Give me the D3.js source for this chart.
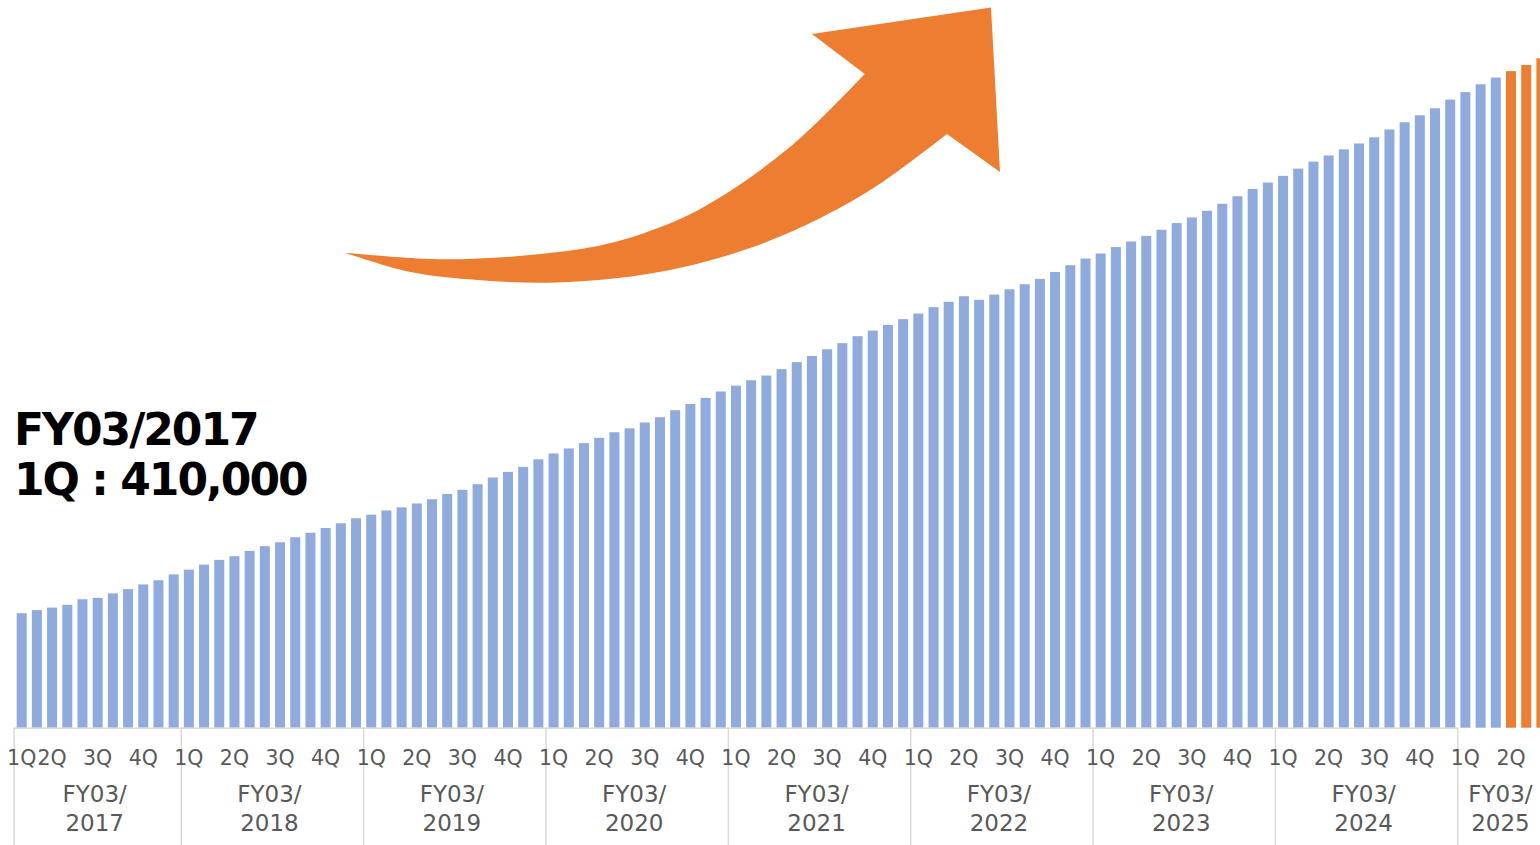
<!DOCTYPE html>
<html>
<head>
<meta charset="utf-8">
<script src="https://cdn.jsdelivr.net/npm/d3@7"></script>
<style>
  html, body { margin: 0; padding: 0; background: #ffffff; overflow: hidden; }
  svg { display: block; }
</style>
</head>
<body>
<div id="chart"></div>
<script>
// ---------------- DATA ----------------
const fiscalYearPrefix = "FY03/";
const fiscalYears = ["2017", "2018", "2019", "2020", "2021", "2022", "2023", "2024", "2025"];
// number of monthly bars shown in each fiscal year
const barsPerYear = [11, 12, 12, 12, 12, 12, 12, 12, 6];
// fiscal month (0 = April) of the first bar of each fiscal year
const firstFiscalMonth = [1, 0, 0, 0, 0, 0, 0, 0, 0];
const quarterLabels = ["1Q", "2Q", "3Q", "4Q"];

// monthly values (blue series), May FY03/2017 ... June FY03/2025
const actualValues = [
  410000, 421000, 430000, 440000, 460000, 465000, 481000, 496000, 513000, 528000, 549000,
  566000, 584000, 601000, 614000, 633000, 650000, 664000, 682000, 698000, 715000, 732000, 750000,
  763000, 778000, 789000, 803000, 818000, 837000, 852000, 872000, 896000, 916000, 934000, 961000,
  982000, 1000000, 1019000, 1038000, 1058000, 1072000, 1093000, 1112000, 1137000, 1159000, 1181000, 1204000,
  1225000, 1244000, 1261000, 1284000, 1309000, 1331000, 1355000, 1377000, 1402000, 1422000, 1442000, 1463000,
  1483000, 1506000, 1525000, 1545000, 1532000, 1551000, 1570000, 1588000, 1607000, 1632000, 1656000, 1680000,
  1698000, 1721000, 1741000, 1761000, 1783000, 1807000, 1827000, 1851000, 1876000, 1903000, 1929000, 1952000,
  1976000, 2002000, 2027000, 2049000, 2071000, 2092000, 2114000, 2142000, 2168000, 2193000, 2218000, 2249000,
  2276000, 2304000, 2328000
];
// latest months (orange series), July - September FY03/2025
const highlightValues = [2351000, 2373000, 2397000];

const calloutLines = ["FY03/2017", "1Q : 410,000"];

// ---------------- BUILD ----------------
const W = 1540, H = 845;
const bars = [];
let idx = 0;
fiscalYears.forEach((fy, g) => {
  for (let k = 0; k < barsPerYear[g]; k++) {
    const fm = firstFiscalMonth[g] + k;
    bars.push({ i: idx, group: g, fm, q: Math.floor(fm / 3) });
    idx++;
  }
});
const allValues = actualValues.concat(highlightValues);
bars.forEach((b, i) => {
  b.value = allValues[i];
  b.highlight = i >= actualValues.length;
});
const n = bars.length;

const step = 15.197;
const x = d3.scaleBand()
  .domain(d3.range(n))
  .range([14.1, 14.1 + n * step])
  .paddingInner(0.342)
  .paddingOuter(0.171);
const baseY = 727.7;
const y = d3.scaleLinear()
  .domain([0, 2600000])
  .range([baseY, baseY - 2600000 / 3580.8]);

const svg = d3.select("#chart").append("svg")
  .attr("width", W).attr("height", H)
  .style("background", "#ffffff");

// bars
svg.append("g").selectAll("rect")
  .data(bars)
  .join("rect")
  .attr("x", d => x(d.i))
  .attr("width", x.bandwidth())
  .attr("y", d => y(d.value))
  .attr("height", d => y(0) - y(d.value))
  .attr("fill", d => d.highlight ? "#ED7D31" : "#8FAADC");

// axis
const axisG = svg.append("g");
const half = x.step() * x.paddingInner() / 2;
const groupStarts = [];
let s = 0;
barsPerYear.forEach(c => { groupStarts.push(s); s += c; });
const boundaryX = i => x(0) + i * x.step() - half;
const axisColor = "#D9D9D9";

axisG.append("line")
  .attr("x1", boundaryX(0)).attr("x2", boundaryX(groupStarts[groupStarts.length - 1]))
  .attr("y1", baseY + 0.6).attr("y2", baseY + 0.6)
  .attr("stroke", axisColor).attr("stroke-width", 1.5);

axisG.selectAll("line.sep")
  .data(groupStarts)
  .join("line")
  .attr("class", "sep")
  .attr("x1", d => boundaryX(d)).attr("x2", d => boundaryX(d))
  .attr("y1", baseY - 0.2).attr("y2", H)
  .attr("stroke", axisColor).attr("stroke-width", 1.5);

// quarter labels at first bar of each quarter
const qBars = bars.filter((b, i) => i === 0 || bars[i - 1].group !== b.group || bars[i - 1].q !== b.q);
axisG.selectAll("text.q")
  .data(qBars)
  .join("text")
  .attr("class", "q")
  .attr("x", d => x(d.i) + x.bandwidth() / 2)
  .attr("y", 765)
  .attr("text-anchor", "middle")
  .attr("font-family", "'DejaVu Sans', Verdana, sans-serif")
  .attr("font-size", 20.5)
  .attr("fill", "#595959")
  .text(d => quarterLabels[d.q]);

// fiscal year labels
const groupCenter = g => (boundaryX(groupStarts[g]) + boundaryX(groupStarts[g] + barsPerYear[g])) / 2 - 3;
const fyG = axisG.selectAll("g.fy")
  .data(fiscalYears.map((fy, g) => ({ fy, g })))
  .join("g")
  .attr("class", "fy");
fyG.append("text")
  .attr("x", d => groupCenter(d.g))
  .attr("y", 802)
  .attr("text-anchor", "middle")
  .attr("font-family", "'DejaVu Sans', Verdana, sans-serif")
  .attr("font-size", 23)
  .attr("fill", "#595959")
  .text(fiscalYearPrefix);
fyG.append("text")
  .attr("x", d => groupCenter(d.g))
  .attr("y", 831)
  .attr("text-anchor", "middle")
  .attr("font-family", "'DejaVu Sans', Verdana, sans-serif")
  .attr("font-size", 23)
  .attr("fill", "#595959")
  .text(d => d.fy);

// callout text
svg.append("g").selectAll("text")
  .data(calloutLines)
  .join("text")
  .attr("x", 14)
  .attr("y", (d, i) => 444.5 + i * 50.5)
  .attr("font-family", "'DejaVu Sans', Verdana, sans-serif")
  .attr("font-weight", "bold")
  .attr("font-size", 44)
  .attr("letter-spacing", -2)
  .attr("fill", "#000000")
  .text(d => d);

// decorative growth arrow
const upperEdge = [[345.2, 252.7], [443.4, 259.3], [546.9, 253.3], [615.9, 241.7], [684.8, 216.7], [736.6, 186.7], [788.3, 148.3], [822.8, 116.7], [864.8, 74]];
const arrowHead = [[812, 34], [991, 7.5], [1000, 172], [947, 134]];
const lowerEdge = [[947, 134], [880.7, 183.3], [822.8, 216.7], [753.8, 246.7], [684.8, 266.7], [615.9, 278.3], [546.9, 282.7], [477.9, 280], [409, 271.7], [345.2, 252.7]];
const curve = d3.line().curve(d3.curveCatmullRom.alpha(0.5));
const upperPath = curve(upperEdge);
const lowerPath = curve(lowerEdge);
const headPath = arrowHead.map(p => "L" + p[0] + "," + p[1]).join("");
svg.append("path")
  .attr("d", upperPath + headPath + "L" + lowerPath.slice(1) + "Z")
  .attr("fill", "#ED7D31");
</script>
</body>
</html>
